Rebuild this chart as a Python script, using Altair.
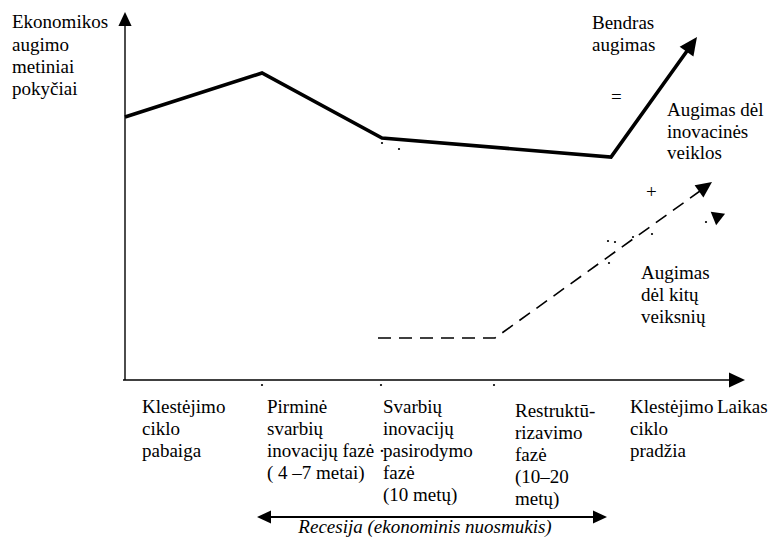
import altair as alt
import pandas as pd

# ---- data (diagram units: x = time position, y = vertical position, top-down) ----
total_x = [125, 262, 382, 611, 687]          # "Bendras augimas" solid line
total_y = [117, 73, 138, 157, 51]
innov_x = [378, 495, 700]                    # dashed line
innov_y = [338, 338, 191]

# arrow heads: tip position, direction angle, size
head_x = [125, 745, 697, 712, 257, 607]
head_y = [12, 380, 37, 182, 517, 517]
head_ang = [270, 0, 305.6, 324.3, 180, 0]
head_size = [784, 1024, 1296, 1024, 784, 784]

# axes and recession span
rule_x = [125, 123, 262]
rule_x2 = [125, 733, 602]
rule_y = [380, 380, 517]
rule_y2 = [24, 380, 517]
rule_w = [1.4, 1.4, 2.2]

# tick dots on time axis and small specks
dot_x = [262, 381, 494, 382, 399, 608, 615, 609, 633, 652, 706]
dot_y = [385, 385, 385, 143, 149, 241, 242, 263, 237, 234, 222]

# text labels
lab_text = ["Ekonomikos", "augimo", "metiniai", "pokyčiai",
            "Bendras", "augimas", "=",
            "Augimas dėl", "inovacinės", "veiklos", "+",
            "Augimas", "dėl kitų", "veiksnių",
            "Klestėjimo", "ciklo", "pabaiga",
            "Pirminė", "svarbių", "inovacijų fazė ·", "( 4 –7 metai)",
            "Svarbių", "inovacijų", "pasirodymo", "fazė", "(10 metų)",
            "Restruktū-", "rizavimo", "fazė", "(10–20", "metų)",
            "Klestėjimo", "ciklo", "pradžia",
            "Laikas"]
lab_x = [12, 12, 12, 12,
         592, 592, 611,
         667, 667, 667, 646,
         641, 641, 641,
         142, 142, 142,
         267, 267, 267, 267,
         383, 383, 383, 383, 383,
         515, 515, 515, 515, 515,
         630, 630, 630,
         717]
lab_y = [22, 45, 67, 89,
         23, 45, 97,
         110, 132, 153, 192,
         273, 295, 317,
         407, 429, 451,
         407, 429, 451, 473,
         407, 429, 451, 473, 495,
         411, 433, 455, 477, 499,
         407, 429, 451,
         407]

rec_text = ["Recesija (ekonominis nuosmukis)"]
rec_x = [425]
rec_y = [533]

# ---- build ----
X = lambda f: alt.X(f, scale=alt.Scale(domain=[8, 776], nice=False, zero=False), axis=None)
Y = lambda f: alt.Y(f, scale=alt.Scale(domain=[8, 538], nice=False, zero=False, reverse=True), axis=None)

total = pd.DataFrame({"x": total_x, "y": total_y, "i": range(len(total_x))})
innov = pd.DataFrame({"x": innov_x, "y": innov_y, "i": range(len(innov_x))})
heads = pd.DataFrame({"x": head_x, "y": head_y, "ang": head_ang, "s": head_size})
rules = pd.DataFrame({"x": rule_x, "x2": rule_x2, "y": rule_y, "y2": rule_y2, "w": rule_w})
dots = pd.DataFrame({"x": dot_x, "y": dot_y})
labels = pd.DataFrame({"x": lab_x, "y": lab_y, "t": lab_text})
rec = pd.DataFrame({"x": rec_x, "y": rec_y, "t": rec_text})

FONT = "Liberation Serif"

rule_layer = alt.Chart(rules).mark_rule(color="black").encode(
    x=X("x:Q"), x2="x2:Q", y=Y("y:Q"), y2="y2:Q",
    strokeWidth=alt.StrokeWidth("w:Q", scale=None))

total_layer = alt.Chart(total).mark_line(color="black", strokeWidth=3.6, strokeJoin="miter").encode(
    x=X("x:Q"), y=Y("y:Q"), order="i:Q")

innov_layer = alt.Chart(innov).mark_line(color="black", strokeWidth=1.6, strokeDash=[13, 8]).encode(
    x=X("x:Q"), y=Y("y:Q"), order="i:Q")

head_layer = alt.Chart(heads).mark_point(
    shape="M0,0L-1,-0.47L-1,0.47Z", filled=True, color="black", opacity=1, strokeWidth=0).encode(
    x=X("x:Q"), y=Y("y:Q"),
    angle=alt.Angle("ang:Q", scale=None),
    size=alt.Size("s:Q", scale=None))

stray = alt.Chart(pd.DataFrame({"x": [717], "y": [219]})).mark_point(
    shape="triangle-down", filled=True, color="black", opacity=1, size=210, angle=8).encode(
    x=X("x:Q"), y=Y("y:Q"))

dot_layer = alt.Chart(dots).mark_point(
    shape="circle", filled=True, color="black", opacity=1, size=5).encode(
    x=X("x:Q"), y=Y("y:Q"))

text_layer = alt.Chart(labels).mark_text(
    align="left", baseline="middle", font=FONT, fontSize=19).encode(
    x=X("x:Q"), y=Y("y:Q"), text="t:N")

rec_layer = alt.Chart(rec).mark_text(
    align="center", baseline="alphabetic", font=FONT, fontSize=19, fontStyle="italic").encode(
    x=X("x:Q"), y=Y("y:Q"), text="t:N")

chart = alt.layer(rule_layer, total_layer, innov_layer, head_layer, stray, dot_layer,
                  text_layer, rec_layer).properties(
    width=768, height=530, padding=0, autosize=alt.AutoSizeParams(type="none"),
    view=alt.ViewBackground(stroke=None)
)

chart.save("out.html", embed_options={"renderer": "svg", "actions": False})
